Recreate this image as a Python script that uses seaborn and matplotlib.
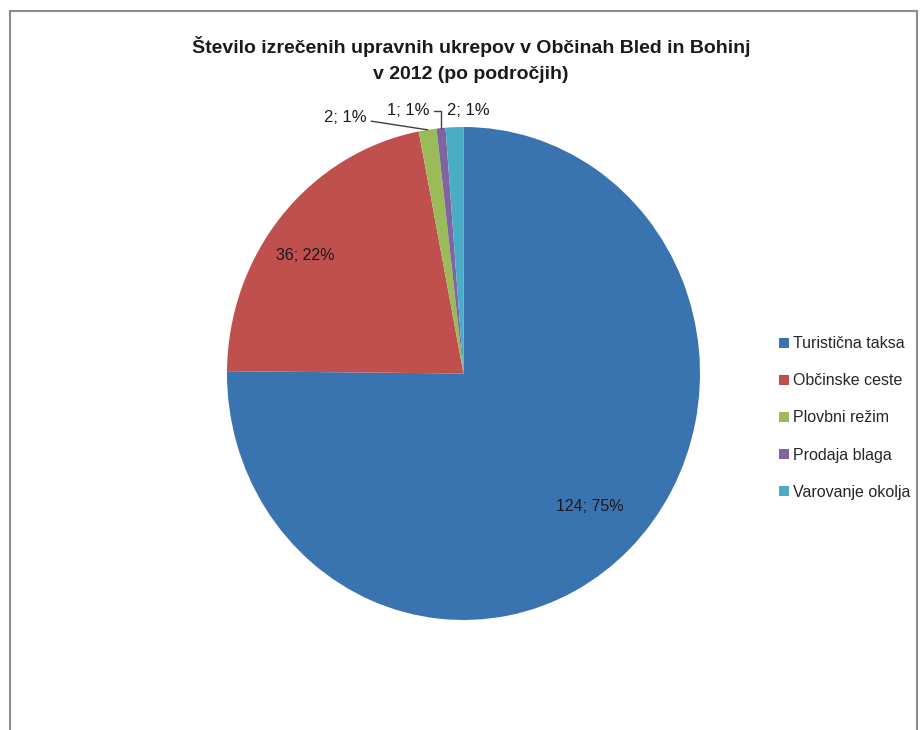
import numpy as np
import matplotlib
matplotlib.use('Agg')
import matplotlib.pyplot as plt
import seaborn as sns
from matplotlib.patches import Rectangle

categories = ['Turistična taksa', 'Občinske ceste', 'Plovbni režim', 'Prodaja blaga', 'Varovanje okolja']
counts = [124, 36, 2, 1, 2]
colors = ['#3a74b0', '#c0504d', '#9bbb59', '#8064a2', '#4bacc6']
title = 'Število izrečenih upravnih ukrepov v Občinah Bled in Bohinj\nv 2012 (po področjih)'

sns.set_theme(style='white')
plt.rcParams['font.family'] = ['Liberation Sans', 'DejaVu Sans']

fig = plt.figure(figsize=(9.23, 7.30), dpi=100)
W, H = 923, 730

# outer chart frame
fig.patches.append(Rectangle((10 / W, -0.05), 907 / W, 1 - 11 / H + 0.05,
                             transform=fig.transFigure, fill=False,
                             edgecolor='#8c8c8c', linewidth=1.5))

fig.text(471 / W, 1 - 36 / H, title, ha='center', va='top',
         fontsize=14, fontweight='bold', color='#1a1a1a', linespacing=1.7)

ax = fig.add_axes([227 / W, 1 - 620 / H, 473 / W, 493 / H])
total = sum(counts)
wedges, _ = ax.pie(counts, colors=colors, startangle=90, counterclock=False,
                   wedgeprops=dict(linewidth=0))
ax.set_aspect('auto')
ax.set_xlim(-1, 1)
ax.set_ylim(-1, 1)

labels = ['%d; %d%%' % (c, round(100 * c / total)) for c in counts]

# inside labels for the two big slices
mid = np.deg2rad((wedges[0].theta1 + wedges[0].theta2) / 2)
ax.text(0.76 * np.cos(mid), 0.76 * np.sin(mid), labels[0], ha='center',
        va='center', fontsize=11.5, color='#1a1a1a')
ax.text(-0.67, 0.48, labels[1], ha='center', va='center', fontsize=11.5,
        color='#1a1a1a')

# outside labels for the small slices
def edge_point(w):
    m = np.deg2rad((w.theta1 + w.theta2) / 2)
    return np.cos(m), np.sin(m)

ax.annotate(labels[2], xy=edge_point(wedges[2]), xytext=(-0.41, 1.04),
            ha='right', va='center', fontsize=12, color='#1a1a1a',
            annotation_clip=False,
            arrowprops=dict(arrowstyle='-', color='#404040', lw=1,
                            shrinkA=1, shrinkB=0))
ax.annotate(labels[3], xy=edge_point(wedges[3]), xytext=(-0.145, 1.065),
            ha='right', va='center', fontsize=12, color='#1a1a1a',
            annotation_clip=False,
            arrowprops=dict(arrowstyle='-', color='#404040', lw=1,
                            shrinkA=1, shrinkB=0,
                            connectionstyle='angle,angleA=0,angleB=90,rad=0'))
ax.text(-0.07, 1.065, labels[4], ha='left', va='center', fontsize=12,
        color='#1a1a1a')

leg = fig.legend(wedges, categories, loc='center left',
                 bbox_to_anchor=(765 / W, 1 - 418 / H), frameon=False,
                 fontsize=11.5, handlelength=0.6, handleheight=0.6,
                 handletextpad=0.25, labelspacing=1.38)

fig.savefig('out.png', dpi=100)
